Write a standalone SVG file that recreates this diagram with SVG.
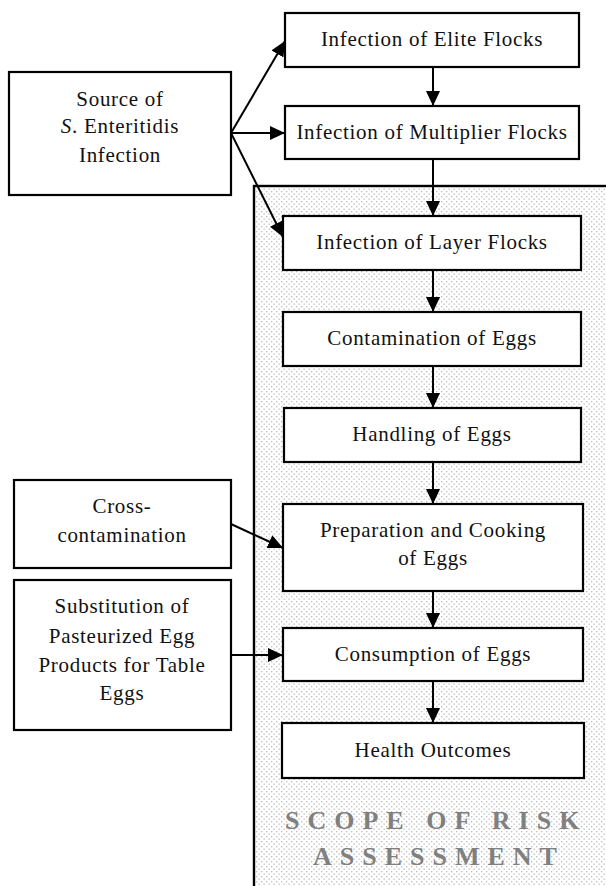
<svg xmlns="http://www.w3.org/2000/svg" width="606" height="886" viewBox="0 0 606 886">
<style>
.box{fill:#fff;stroke:#000;stroke-width:2.2}
.t{font-family:"Liberation Serif","Times New Roman",serif;font-size:21px;letter-spacing:0.7px;fill:#111;text-anchor:middle}
.scope{font-family:"Liberation Serif","Times New Roman",serif;font-size:26px;font-weight:bold;letter-spacing:8px;fill:#808080}
.c{stroke:#000;stroke-width:2;fill:none;marker-end:url(#ah)}
</style>
<defs>
<pattern id="dots" width="5" height="5" patternUnits="userSpaceOnUse">
<rect width="5" height="5" fill="#fff"/>
<rect x="1" y="1" width="1.3" height="1.3" fill="#bcbcbc"/>
<rect x="3.5" y="3.5" width="1.3" height="1.3" fill="#bcbcbc"/>
</pattern>
<marker id="ah" markerUnits="userSpaceOnUse" markerWidth="15" markerHeight="14" refX="15" refY="7" orient="auto">
<path d="M0,0 L15,7 L0,14 z" fill="#000"/>
</marker>
</defs>
<rect width="606" height="886" fill="#fff"/>
<g id="scope">
<rect x="254" y="186" width="400" height="760" fill="url(#dots)" stroke="#000" stroke-width="2.4"/>
<text class="scope" x="285" y="829">SCOPE OF RISK</text>
<text class="scope" x="313" y="865">ASSESSMENT</text>
</g>
<g id="connectors">
<line class="c" x1="231" y1="133" x2="285" y2="41"/>
<line class="c" x1="231" y1="133" x2="285" y2="133"/>
<line class="c" x1="231" y1="133" x2="283" y2="237"/>
<line class="c" x1="433" y1="67" x2="433" y2="106"/>
<line class="c" x1="433" y1="159" x2="433" y2="216"/>
<line class="c" x1="433" y1="270" x2="433" y2="312"/>
<line class="c" x1="433" y1="366" x2="433" y2="408"/>
<line class="c" x1="433" y1="462" x2="433" y2="504"/>
<line class="c" x1="433" y1="591" x2="433" y2="628"/>
<line class="c" x1="433" y1="681" x2="433" y2="723"/>
<line class="c" x1="231" y1="524" x2="283" y2="548"/>
<line class="c" x1="231" y1="655" x2="283" y2="655"/>
</g>
<g id="source">
<rect class="box" x="9" y="72" width="222" height="123"/>
<text class="t" x="120" y="106">Source of</text>
<text class="t" x="120" y="133"><tspan font-style="italic">S</tspan>. Enteritidis</text>
<text class="t" x="120" y="162">Infection</text>
</g>
<g id="elite">
<rect class="box" x="285" y="13" width="294" height="54"/>
<text class="t" x="432" y="46">Infection of Elite Flocks</text>
</g>
<g id="multiplier">
<rect class="box" x="285" y="106" width="294" height="53"/>
<text class="t" x="432" y="139">Infection of Multiplier Flocks</text>
</g>
<g id="layer">
<rect class="box" x="283" y="216" width="298" height="54"/>
<text class="t" x="432" y="249">Infection of Layer Flocks</text>
</g>
<g id="contamination">
<rect class="box" x="283" y="312" width="298" height="54"/>
<text class="t" x="432" y="345">Contamination of Eggs</text>
</g>
<g id="handling">
<rect class="box" x="284" y="408" width="297" height="54"/>
<text class="t" x="432" y="441">Handling of Eggs</text>
</g>
<g id="preparation">
<rect class="box" x="283" y="504" width="300" height="87"/>
<text class="t" x="433" y="537">Preparation and Cooking</text>
<text class="t" x="433" y="565">of Eggs</text>
</g>
<g id="consumption">
<rect class="box" x="283" y="628" width="300" height="53"/>
<text class="t" x="433" y="661">Consumption of Eggs</text>
</g>
<g id="health">
<rect class="box" x="282" y="723" width="302" height="55"/>
<text class="t" x="433" y="757">Health Outcomes</text>
</g>
<g id="cross">
<rect class="box" x="14" y="480" width="217" height="88"/>
<text class="t" x="122" y="513">Cross-</text>
<text class="t" x="122" y="542">contamination</text>
</g>
<g id="substitution">
<rect class="box" x="14" y="580" width="217" height="150"/>
<text class="t" x="122" y="613">Substitution of</text>
<text class="t" x="122" y="643">Pasteurized Egg</text>
<text class="t" x="122" y="672">Products for Table</text>
<text class="t" x="122" y="700">Eggs</text>
</g>
</svg>
